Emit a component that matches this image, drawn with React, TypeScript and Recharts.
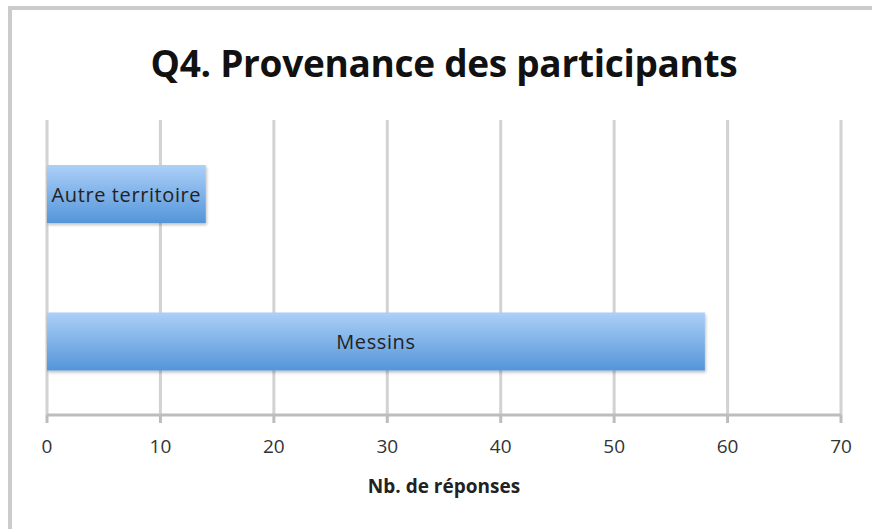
import { BarChart, Bar, XAxis, YAxis, CartesianGrid, LabelList } from "recharts";

const categories = ["Autre territoire", "Messins"];
const responses = [14, 58];
const xTicks = [0, 10, 20, 30, 40, 50, 60, 70];

const data = categories.map((name, i) => ({ name, value: responses[i] }));

const FONT = "'Open Sans', 'Liberation Sans', sans-serif";

function CenterLabel(props: any) {
  const { x, y, width, height, value } = props;
  return (
    <text
      x={x + width / 2}
      y={y + height / 2}
      textAnchor="middle"
      dominantBaseline="central"
      fontSize={20}
      letterSpacing={0.6}
      fill="#222"
      fontFamily={FONT}
    >
      {value}
    </text>
  );
}

export default function App() {
  return (
    <div style={{ position: "absolute", left: 0, top: 0, width: 872, height: 529, background: "#fff", overflow: "hidden" }}>
      <div
        style={{
          position: "absolute",
          left: 8,
          top: 6,
          width: 872,
          height: 540,
          borderTop: "4px solid #cbcbcb",
          borderLeft: "4px solid #cbcbcb",
        }}
      />
      <div
        style={{
          position: "absolute",
          left: 0,
          top: 44,
          width: 888,
          textAlign: "center",
          fontFamily: FONT,
          fontWeight: 700,
          fontSize: 37,
          lineHeight: "37px",
          color: "#111",
          letterSpacing: -0.3,
        }}
      >
        Q4. Provenance des participants
      </div>
      <BarChart
        width={872}
        height={529}
        data={data}
        layout="vertical"
        margin={{ top: 120, right: 31, bottom: 14, left: 47 }}
        barCategoryGap={0}
        style={{ position: "absolute", left: 0, top: 0 }}
      >
        <defs>
          <linearGradient id="barFill" x1="0" y1="0" x2="0" y2="1">
            <stop offset="0%" stopColor="#acd0f8" />
            <stop offset="100%" stopColor="#5495d9" />
          </linearGradient>
          <filter id="shadow" x="-5%" y="-10%" width="110%" height="130%">
            <feDropShadow dx="1" dy="2" stdDeviation="1.5" floodColor="#000" floodOpacity="0.25" />
          </filter>
        </defs>
        <CartesianGrid horizontal={false} stroke="#d2d2d2" strokeWidth={3} />
        <XAxis
          type="number"
          domain={[0, 70]}
          ticks={xTicks}
          interval={0}
          height={100}
          stroke="#bdbdbd"
          strokeWidth={3}
          tickSize={8}
          tickMargin={17}
          tick={{ fontSize: 19, fill: "#333", fontFamily: FONT }}
          label={{
            value: "Nb. de réponses",
            position: "insideBottom",
            offset: 22,
            fontSize: 19,
            fontWeight: 700,
            fill: "#222",
            fontFamily: FONT,
          }}
        />
        <YAxis type="category" dataKey="name" hide width={0} />
        <Bar
          dataKey="value"
          barSize={58}
          fill="url(#barFill)"
          filter="url(#shadow)"
          isAnimationActive={false}
        >
          <LabelList dataKey="name" content={<CenterLabel />} />
        </Bar>
      </BarChart>
    </div>
  );
}
